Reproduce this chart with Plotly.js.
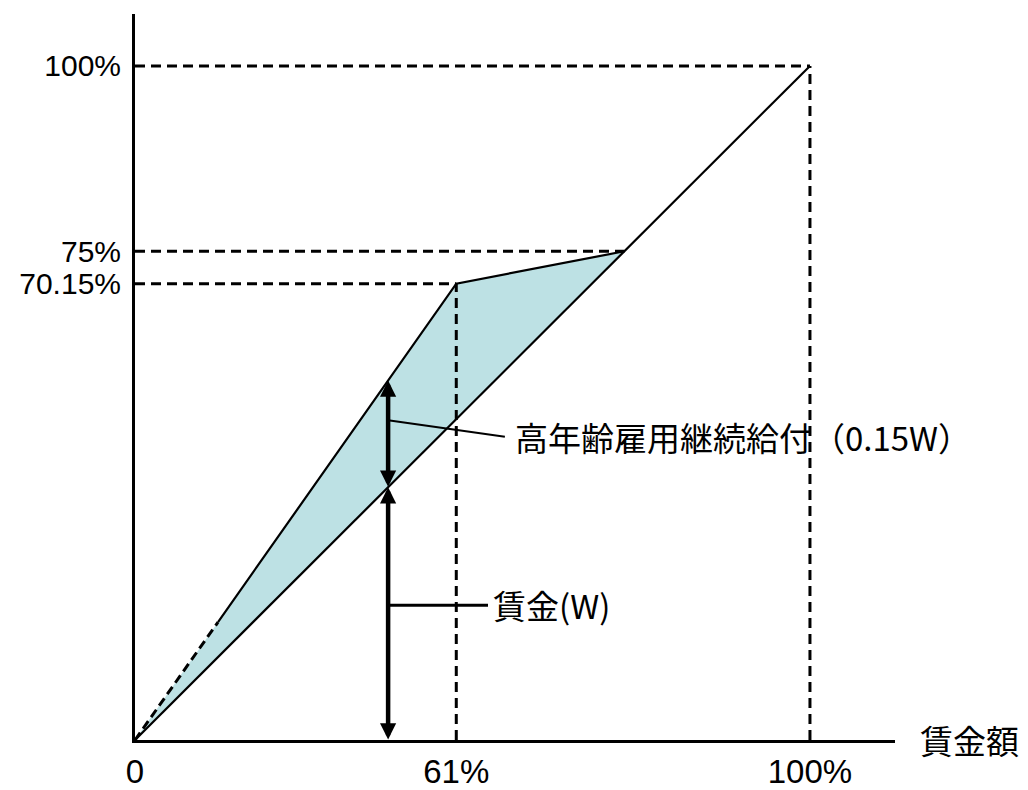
<!DOCTYPE html>
<html>
<head>
<meta charset="utf-8">
<script src="https://cdn.plot.ly/plotly-3.0.1.min.js"></script>
<style>html,body{margin:0;padding:0;background:#fff;}</style>
</head>
<body>
<div id="chart" style="width:1028px;height:790px;"></div>
<script>
// Schematic diagram positions (axis units: 100 = 100% mark)
const xTickVals = [0, 47.6, 100];
const xTickText = ['0', '61%', '100%'];
const yTickVals = [67.7, 72.5, 100];
const yTickText = ['70.15%', '75%', '100%'];

// wage line (45-degree)
const wageX = [0, 100];
const wageY = [0, 100];
// wage + benefit line: origin -> knee (61%, 70.15%) -> cap (75%)
const totalX = [0, 47.6, 72.5];
const totalY = [0, 67.7, 72.5];
const dashedUntilX = 12.3;   // first part of the total line drawn dashed

// explanatory arrow position
const arrowX = 37.5;

const labelBenefit = '高年齢雇用継続給付（0.15W）';
const labelWage = '賃金(W)';
const xAxisLabel = '賃金額';

const font = 'Liberation Sans, Arial, "Noto Sans CJK JP", sans-serif';
const jpFont = '"Noto Sans CJK JP", "Liberation Sans", sans-serif';

const slope1 = totalY[1] / totalX[1];
const yDashEnd = dashedUntilX * slope1;
const yTopArrow = arrowX * slope1;
const yMidArrow = arrowX * (wageY[1] / wageX[1]);

const dashStyle = '10px,6px';
const traces = [];

// shaded area between total line and wage line
traces.push({
  x: totalX.concat([totalX[0]]),
  y: totalY.concat([totalY[0]]),
  mode: 'lines', fill: 'toself', fillcolor: '#BDE1E4',
  line: {width: 0}, hoverinfo: 'skip'
});

// reference dashed lines
const refPts = [
  [totalX[1], totalY[1], true],      // 61% / 70.15%
  [totalX[2], totalY[2], false],     // 75%
  [wageX[1], wageY[1], true]         // 100% / 100%
];
refPts.forEach(p => {
  traces.push({x: [0, p[0]], y: [p[1], p[1]], mode: 'lines',
    line: {color: '#000', width: 3, dash: dashStyle}, hoverinfo: 'skip'});
  if (p[2]) {
    traces.push({x: [p[0], p[0]], y: [0, p[1]], mode: 'lines',
      line: {color: '#000', width: 3, dash: dashStyle}, hoverinfo: 'skip'});
  }
});

// wage line
traces.push({x: wageX, y: wageY, mode: 'lines', line: {color: '#000', width: 2.2}, hoverinfo: 'skip'});
// total line: dashed start then solid
traces.push({x: [0, dashedUntilX], y: [0, yDashEnd], mode: 'lines',
  line: {color: '#000', width: 3, dash: '9px,5px'}, hoverinfo: 'skip'});
traces.push({x: [dashedUntilX].concat(totalX.slice(1)), y: [yDashEnd].concat(totalY.slice(1)),
  mode: 'lines', line: {color: '#000', width: 2.2}, hoverinfo: 'skip'});

// leader lines
const benefitLeaderY = (yTopArrow + yMidArrow) / 2 + 2;
const benefitTextX = 56;
const benefitTextY = 45.0;
const wageLeaderY = 20;
const wageTextX = 52.8;
traces.push({x: [arrowX, benefitTextX - 1.2], y: [benefitLeaderY, benefitTextY], mode: 'lines',
  line: {color: '#000', width: 2}, hoverinfo: 'skip'});
traces.push({x: [arrowX, wageTextX - 0.5], y: [wageLeaderY, wageLeaderY], mode: 'lines',
  line: {color: '#000', width: 3}, hoverinfo: 'skip'});

const arrowCommon = {xref: 'x', yref: 'y', axref: 'x', ayref: 'y', text: '', showarrow: true,
  arrowside: 'end+start', arrowhead: 2, arrowsize: 0.72, arrowwidth: 4.5, arrowcolor: '#000',
  standoff: 0, startstandoff: 0, borderpad: 0};

const layout = {
  width: 1028, height: 790,
  margin: {l: 135, r: 133, t: 14, b: 50},
  paper_bgcolor: '#fff', plot_bgcolor: '#fff',
  showlegend: false,
  xaxis: {range: [0, 112.6], showgrid: false, zeroline: false, showline: true, linewidth: 3,
    linecolor: '#000', ticks: '', tickvals: xTickVals, ticktext: xTickText,
    tickfont: {family: font, size: 33, color: '#000'}, ticklabelstandoff: 0, fixedrange: true},
  yaxis: {range: [0, 107.7], showgrid: false, zeroline: false, showline: true, linewidth: 3,
    linecolor: '#000', ticks: '', tickvals: yTickVals, ticktext: yTickText,
    tickfont: {family: font, size: 30, color: '#000'}, ticklabelstandoff: 5, fixedrange: true},
  annotations: [
    Object.assign({x: arrowX, y: yTopArrow, ax: arrowX, ay: yMidArrow}, arrowCommon),
    Object.assign({x: arrowX, y: yMidArrow, ax: arrowX, ay: 0}, arrowCommon),
    {xref: 'x', yref: 'y', x: benefitTextX, y: benefitTextY, xanchor: 'left', yanchor: 'middle',
      text: labelBenefit, showarrow: false, font: {family: jpFont, size: 33, color: '#000'}},
    {xref: 'x', yref: 'y', x: wageTextX, y: wageLeaderY, xanchor: 'left', yanchor: 'middle',
      text: labelWage, showarrow: false, font: {family: jpFont, size: 33, color: '#000'}},
    {xref: 'paper', yref: 'y', x: 1.03, y: 0, xanchor: 'left', yanchor: 'middle',
      text: xAxisLabel, showarrow: false, font: {family: jpFont, size: 33, color: '#000'}}
  ]
};

Plotly.newPlot('chart', traces, layout, {staticPlot: true, displayModeBar: false});
</script>
</body>
</html>
